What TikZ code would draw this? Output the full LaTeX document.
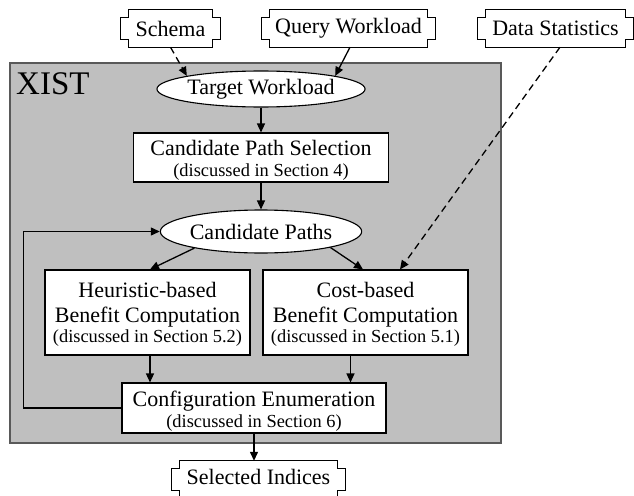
\documentclass[tikz,border=0pt]{standalone}
\usepackage{fontspec}
\setmainfont{Liberation Serif}
\usetikzlibrary{arrows.meta,shapes.geometric}

\newcommand\bigfont{\fontsize{22}{25}\selectfont}
\newcommand\smallfont{\fontsize{18.4}{20}\selectfont}

% outline of an input/output box: a rectangle with square notches at the corners
\newcommand\notchframe[1]{%
  \draw[framestroke]
    ([xshift=7.5pt]#1.north west) -- ([xshift=-7.5pt]#1.north east)
    -- ([xshift=-7.5pt,yshift=-8pt]#1.north east) -- ([yshift=-8pt]#1.north east)
    -- ([yshift=8pt]#1.south east) -- ([xshift=-7.5pt,yshift=8pt]#1.south east)
    -- ([xshift=-7.5pt]#1.south east) -- ([xshift=7.5pt]#1.south west)
    -- ([xshift=7.5pt,yshift=8pt]#1.south west) -- ([yshift=8pt]#1.south west)
    -- ([yshift=-8pt]#1.north west) -- ([xshift=7.5pt,yshift=-8pt]#1.north west)
    -- cycle;}

\tikzset{
  framestroke/.style={draw=black, line width=1.1pt, fill=white},
  iobox/.style={inner sep=0pt, font=\bigfont},
  procbox/.style={draw=black, line width=1.1pt, fill=white, inner sep=0pt},
  oval/.style={ellipse, draw=black, line width=1.1pt, fill=white, inner sep=0pt, font=\bigfont},
  bigtext/.style={inner sep=0pt, anchor=base, font=\bigfont},
  smalltext/.style={inner sep=0pt, anchor=base, font=\smallfont},
  flow/.style={line width=1.3pt, -{Triangle[length=9pt,width=8pt]}},
  dflow/.style={flow, dash pattern=on 7pt off 4.5pt},
  system/.style={fill=black!25, draw=black!65, line width=1.6pt}
}

\begin{document}
\begin{tikzpicture}[x=1pt,y=-1pt]
\useasboundingbox (0,0) rectangle (634,495);

% the XIST system boundary
\path[system] (10,63) rectangle (501,443);
\node[inner sep=0pt, anchor=base west, font=\fontsize{33}{35}\selectfont] (xist) at (16,94) {XIST};

% inputs and output
\node[iobox, minimum width=99pt, minimum height=37pt] (schema) at (170.5,28.5) {};
\notchframe{schema}
\node[iobox] (schemaT) at (schema) {Schema};
\node[iobox, minimum width=173pt, minimum height=37pt] (query) at (348.5,28.5) {};
\notchframe{query}
\node[iobox] (queryT) at (query) {Query Workload};
\node[iobox, minimum width=155pt, minimum height=37pt] (stats) at (555.5,28.5) {};
\notchframe{stats}
\node[iobox] (statsT) at (stats) {Data Statistics};
\node[iobox, minimum width=173pt, minimum height=37pt] (sel) at (258.5,479.5) {};
\notchframe{sel}
\node[iobox] (selT) at (258.5,477) {Selected Indices};

% intermediate data
\node[oval, minimum width=178pt, minimum height=36pt] (tw) at (261,89) {Target Workload};
\node[oval, minimum width=185pt, minimum height=43pt] (cp) at (261,231.5) {Candidate Paths};

% processing steps
\node[procbox, minimum width=255pt, minimum height=49pt] (cps) at (261,157.5) {};
\node[bigtext] (cpsA) at (261,155) {Candidate Path Selection};
\node[smalltext] (cpsB) at (261,176) {(discussed in Section 4)};

\node[procbox, minimum width=205pt, minimum height=85pt] (heur) at (147.5,312.5) {};
\node[bigtext] (heurA) at (147.5,297) {Heuristic-based};
\node[bigtext] (heurB) at (147.5,322) {Benefit Computation};
\node[smalltext] (heurC) at (147.5,342) {(discussed in Section 5.2)};

\node[procbox, minimum width=205pt, minimum height=85pt] (cost) at (365.5,312.5) {};
\node[bigtext] (costA) at (365.5,297) {Cost-based};
\node[bigtext] (costB) at (365.5,322) {Benefit Computation};
\node[smalltext] (costC) at (365.5,342) {(discussed in Section 5.1)};

\node[procbox, minimum width=264pt, minimum height=50pt] (conf) at (254,408) {};
\node[bigtext] (confA) at (254,406) {Configuration Enumeration};
\node[smalltext] (confB) at (254,427) {(discussed in Section 6)};

% connectors
\draw[dflow] (schema.south) -- (tw.170);
\draw[flow] ([xshift=1.5pt]query.south) -- (tw.10);
\draw[flow] (tw.south) -- (cps.north);
\draw[flow] (cps.south) -- (cp.north);
\draw[flow] (cp.194) -- ([xshift=2.5pt]heur.north);
\draw[flow] (cp.347) -- ([xshift=-2.5pt]cost.north);
\draw[dflow] ([xshift=4.5pt]stats.south) -- ([xshift=34.5pt]cost.north);
\draw[flow] ([xshift=2.5pt]heur.south) -- ([xshift=2.5pt]heur.south |- conf.north);
\draw[flow] ([xshift=-15pt]cost.south) -- ([xshift=-15pt]cost.south |- conf.north);
\draw[flow] (conf.south) -- (conf.south |- sel.north);
\draw[flow] (conf.west) -- ++(-98pt,0) |- (cp.west);
\end{tikzpicture}
\end{document}
